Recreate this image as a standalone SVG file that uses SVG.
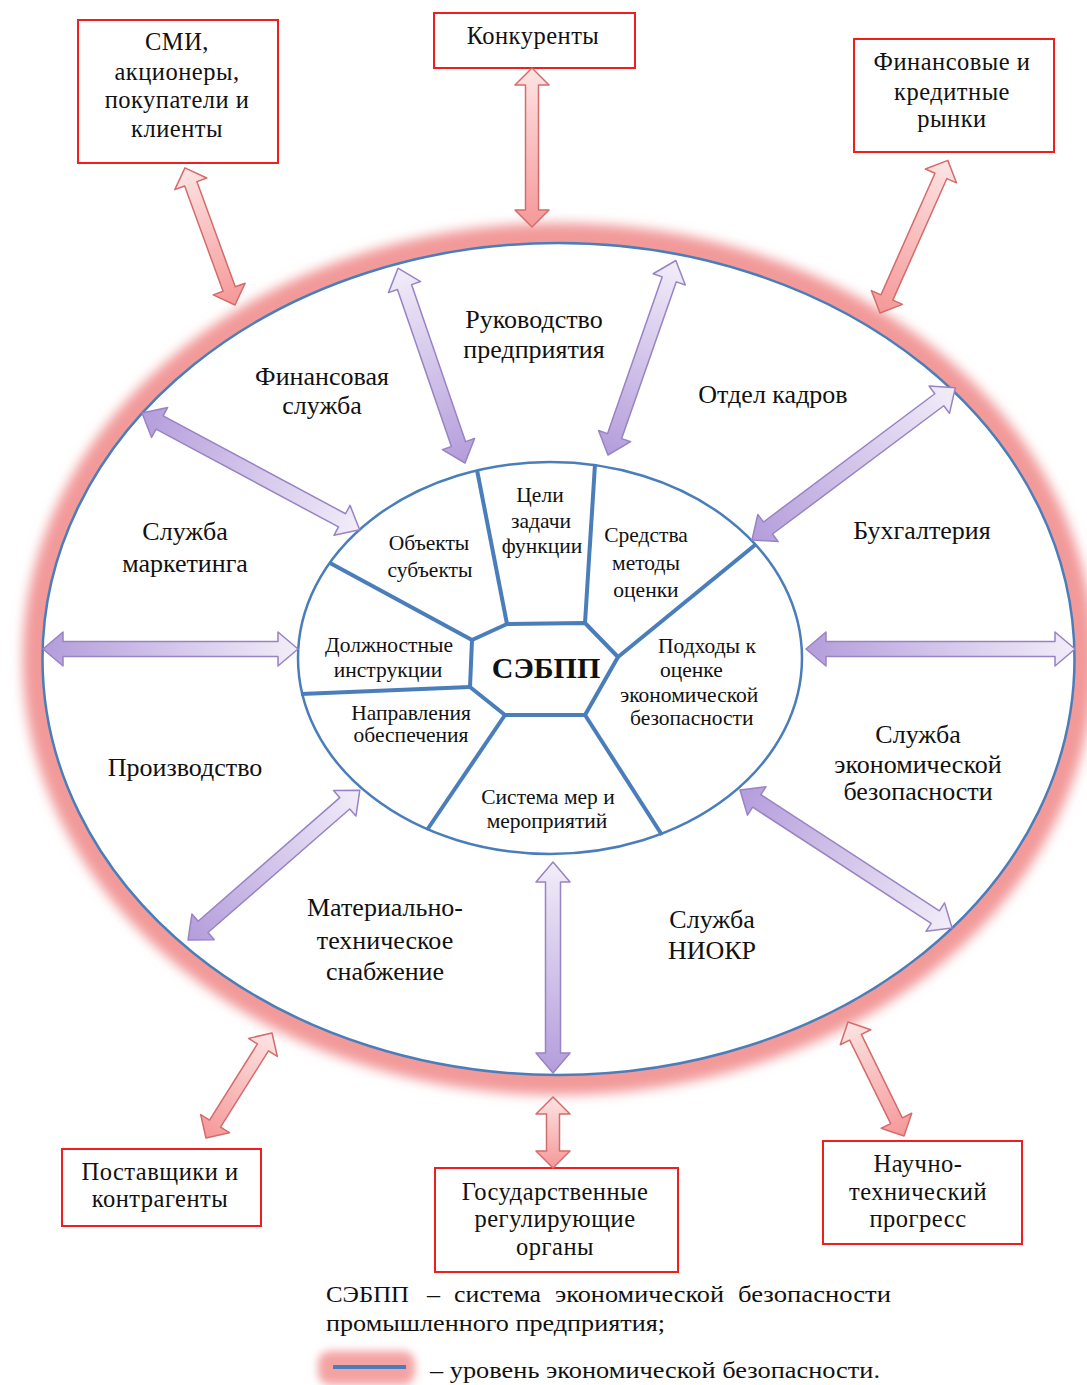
<svg xmlns="http://www.w3.org/2000/svg" width="1087" height="1385" viewBox="0 0 1087 1385">
<defs>
<style>
text{font-family:"Liberation Serif","Times New Roman",serif;fill:#111;}
.box{fill:#fff;stroke:#f01e1e;stroke-width:2;}
.bt{font-size:24.5px;letter-spacing:0.5px;text-anchor:middle;}
.ot{font-size:26px;text-anchor:middle;}
.it{font-size:21.5px;text-anchor:middle;}
.il{font-size:21.5px;}
.sp{fill:none;stroke:#4a7ebb;stroke-width:4;stroke-linejoin:round;}
.pa{fill:url(#gp);stroke:#9883c4;stroke-width:1.5;stroke-linejoin:round;}
.ra{fill:url(#gr);stroke:#d56b6b;stroke-width:1.5;stroke-linejoin:round;}
.lg{font-size:23px;}
</style>
<linearGradient id="gp" x1="0" y1="0" x2="1" y2="0">
<stop offset="0" stop-color="#b49ddb"/>
<stop offset="1" stop-color="#f2edf9"/>
</linearGradient>
<linearGradient id="gr" x1="0" y1="0" x2="1" y2="0">
<stop offset="0" stop-color="#f59898"/>
<stop offset="1" stop-color="#fde4e4"/>
</linearGradient>
<filter id="glow" x="-10%" y="-10%" width="120%" height="120%">
<feGaussianBlur stdDeviation="6"/>
</filter>
<filter id="glow2" x="-50%" y="-80%" width="200%" height="260%">
<feGaussianBlur stdDeviation="4"/>
</filter>
</defs>
<rect width="1087" height="1385" fill="#fff"/>

<g id="outer-level">
<ellipse cx="558.5" cy="659" rx="516" ry="416" fill="none" stroke="#f29a9a" stroke-width="40" filter="url(#glow)"/>
<ellipse cx="558.5" cy="659" rx="516" ry="416" fill="#fff" stroke="#4a7ebb" stroke-width="2.5"/>
</g>

<g id="inner-core">
<ellipse cx="550" cy="658" rx="252" ry="196" fill="#fff" stroke="#4a7ebb" stroke-width="2.5"/>
<polygon class="sp" points="507,624 585,623 618,657 585,715 505,715 470,687 472,640"/>
<line class="sp" x1="507" y1="624" x2="477" y2="470"/>
<line class="sp" x1="585" y1="623" x2="595" y2="464"/>
<line class="sp" x1="618" y1="657" x2="755" y2="545"/>
<line class="sp" x1="585" y1="715" x2="662" y2="835"/>
<line class="sp" x1="505" y1="715" x2="427" y2="830"/>
<line class="sp" x1="470" y1="687" x2="301" y2="694"/>
<line class="sp" x1="472" y1="640" x2="330" y2="563"/>
</g>

<g id="core-labels">
<text class="it" x="540" y="502">Цели</text>
<text class="it" x="541" y="528">задачи</text>
<text class="it" x="542" y="553">функции</text>
<text class="it" x="429" y="550">Объекты</text>
<text class="it" x="430" y="577">субъекты</text>
<text class="it" x="646" y="542">Средства</text>
<text class="it" x="646" y="570">методы</text>
<text class="it" x="646" y="597">оценки</text>
<text class="it" x="389" y="652">Должностные</text>
<text class="it" x="388" y="677">инструкции</text>
<text x="546" y="678" style="font-family:'Liberation Serif','Times New Roman',serif;font-size:30px;font-weight:bold;text-anchor:middle">СЭБПП</text>
<text class="il" x="658" y="653">Подходы к</text>
<text class="il" x="660" y="677">оценке</text>
<text class="il" x="620" y="702">экономической</text>
<text class="il" x="630" y="725">безопасности</text>
<text class="it" x="411" y="720">Направления</text>
<text class="it" x="411" y="742">обеспечения</text>
<text class="it" x="548" y="804">Система мер и</text>
<text class="it" x="547" y="828">мероприятий</text>
</g>

<g id="departments">
<text class="ot" x="534" y="328">Руководство</text>
<text class="ot" x="534" y="358">предприятия</text>
<text class="ot" x="322" y="385">Финансовая</text>
<text class="ot" x="322" y="414">служба</text>
<text class="ot" x="773" y="403">Отдел кадров</text>
<text class="ot" x="185" y="540">Служба</text>
<text class="ot" x="185" y="572">маркетинга</text>
<text class="ot" x="922" y="539">Бухгалтерия</text>
<text class="ot" x="185" y="776">Производство</text>
<text class="ot" x="918" y="743">Служба</text>
<text class="ot" x="918" y="773">экономической</text>
<text class="ot" x="918" y="800">безопасности</text>
<text class="ot" x="385" y="916">Материально-</text>
<text class="ot" x="385" y="949">техническое</text>
<text class="ot" x="385" y="980">снабжение</text>
<text class="ot" x="712" y="928">Служба</text>
<text class="ot" x="712" y="959">НИОКР</text>
</g>

<g id="box-smi">
<rect class="box" x="78" y="20" width="200" height="143"/>
<text class="bt" x="177" y="50">СМИ,</text>
<text class="bt" x="177" y="80">акционеры,</text>
<text class="bt" x="177" y="108">покупатели и</text>
<text class="bt" x="177" y="137">клиенты</text>
</g>
<g id="box-competitors">
<rect class="box" x="434" y="13" width="201" height="55"/>
<text class="bt" x="533" y="44">Конкуренты</text>
</g>
<g id="box-markets">
<rect class="box" x="854" y="39" width="200" height="113"/>
<text class="bt" x="952" y="70">Финансовые и</text>
<text class="bt" x="952" y="100">кредитные</text>
<text class="bt" x="952" y="127">рынки</text>
</g>
<g id="box-suppliers">
<rect class="box" x="62" y="1149" width="199" height="77"/>
<text class="bt" x="160" y="1180">Поставщики и</text>
<text class="bt" x="160" y="1207">контрагенты</text>
</g>
<g id="box-government">
<rect class="box" x="435" y="1168" width="243" height="104"/>
<text class="bt" x="555" y="1200">Государственные</text>
<text class="bt" x="555" y="1227">регулирующие</text>
<text class="bt" x="555" y="1255">органы</text>
</g>
<g id="box-progress">
<rect class="box" x="823" y="1141" width="199" height="103"/>
<text class="bt" x="918" y="1172">Научно-</text>
<text class="bt" x="918" y="1200">технический</text>
<text class="bt" x="918" y="1227">прогресс</text>
</g>

<g id="connectors">
<path class="pa" transform="translate(465,463) rotate(-108.97)" d="M0,0 L20,-17 L20,-7.5 L186,-7.5 L186,-17 L206,0 L186,17 L186,7.5 L20,7.5 L20,17 Z"/>
<path class="pa" transform="translate(608,455) rotate(-70.78)" d="M0,0 L20,-17 L20,-7.5 L186,-7.5 L186,-17 L206,0 L186,17 L186,7.5 L20,7.5 L20,17 Z"/>
<path class="pa" transform="translate(142,413) rotate(28.22)" d="M0,0 L20,-17 L20,-7.5 L227,-7.5 L227,-17 L247,0 L227,17 L227,7.5 L20,7.5 L20,17 Z"/>
<path class="pa" transform="translate(752,540) rotate(-36.83)" d="M0,0 L20,-17 L20,-7.5 L234,-7.5 L234,-17 L254,0 L234,17 L234,7.5 L20,7.5 L20,17 Z"/>
<path class="pa" transform="translate(43,649)" d="M0,0 L20,-17 L20,-7.5 L235,-7.5 L235,-17 L255,0 L235,17 L235,7.5 L20,7.5 L20,17 Z"/>
<path class="pa" transform="translate(806,649)" d="M0,0 L20,-17 L20,-7.5 L249,-7.5 L249,-17 L269,0 L249,17 L249,7.5 L20,7.5 L20,17 Z"/>
<path class="pa" transform="translate(740,790) rotate(33.06)" d="M0,0 L20,-17 L20,-7.5 L233,-7.5 L233,-17 L253,0 L233,17 L233,7.5 L20,7.5 L20,17 Z"/>
<path class="pa" transform="translate(188,940) rotate(-41.09)" d="M0,0 L20,-17 L20,-7.5 L208,-7.5 L208,-17 L228,0 L208,17 L208,7.5 L20,7.5 L20,17 Z"/>
<path class="pa" transform="translate(553,1073) rotate(-90)" d="M0,0 L20,-17 L20,-7.5 L191,-7.5 L191,-17 L211,0 L191,17 L191,7.5 L20,7.5 L20,17 Z"/>
<path class="ra" transform="translate(235,305) rotate(-110.05)" d="M0,0 L17,-17 L17,-6.5 L129,-6.5 L129,-17 L146,0 L129,17 L129,6.5 L17,6.5 L17,17 Z"/>
<path class="ra" transform="translate(532,227) rotate(-90)" d="M0,0 L17,-17 L17,-6.5 L142,-6.5 L142,-17 L159,0 L142,17 L142,6.5 L17,6.5 L17,17 Z"/>
<path class="ra" transform="translate(880,313) rotate(-66.04)" d="M0,0 L17,-17 L17,-6.5 L150,-6.5 L150,-17 L167,0 L150,17 L150,6.5 L17,6.5 L17,17 Z"/>
<path class="ra" transform="translate(206,1138) rotate(-57.85)" d="M0,0 L17,-17 L17,-6.5 L107,-6.5 L107,-17 L124,0 L107,17 L107,6.5 L17,6.5 L17,17 Z"/>
<path class="ra" transform="translate(553,1168) rotate(-90)" d="M0,0 L17,-17 L17,-6.5 L54,-6.5 L54,-17 L71,0 L54,17 L54,6.5 L17,6.5 L17,17 Z"/>
<path class="ra" transform="translate(904,1136) rotate(-116.16)" d="M0,0 L17,-17 L17,-6.5 L110,-6.5 L110,-17 L127,0 L110,17 L110,6.5 L17,6.5 L17,17 Z"/>
</g>

<g id="legend">
<text class="lg" x="326" y="1302" textLength="83" lengthAdjust="spacingAndGlyphs">СЭБПП</text>
<text class="lg" x="427" y="1302" textLength="13" lengthAdjust="spacingAndGlyphs">–</text>
<text class="lg" x="454" y="1302" textLength="87" lengthAdjust="spacingAndGlyphs">система</text>
<text class="lg" x="555" y="1302" textLength="169" lengthAdjust="spacingAndGlyphs">экономической</text>
<text class="lg" x="738" y="1302" textLength="153" lengthAdjust="spacingAndGlyphs">безопасности</text>
<text class="lg" x="326" y="1331" textLength="339" lengthAdjust="spacingAndGlyphs">промышленного предприятия;</text>
<rect x="318" y="1351" width="97" height="34" rx="12" fill="#f4a3a3" filter="url(#glow2)"/>
<line x1="333" y1="1367" x2="406" y2="1367" stroke="#4a7ebb" stroke-width="4"/>
<text class="lg" x="430" y="1378" textLength="450" lengthAdjust="spacingAndGlyphs">– уровень экономической безопасности.</text>
</g>
</svg>
